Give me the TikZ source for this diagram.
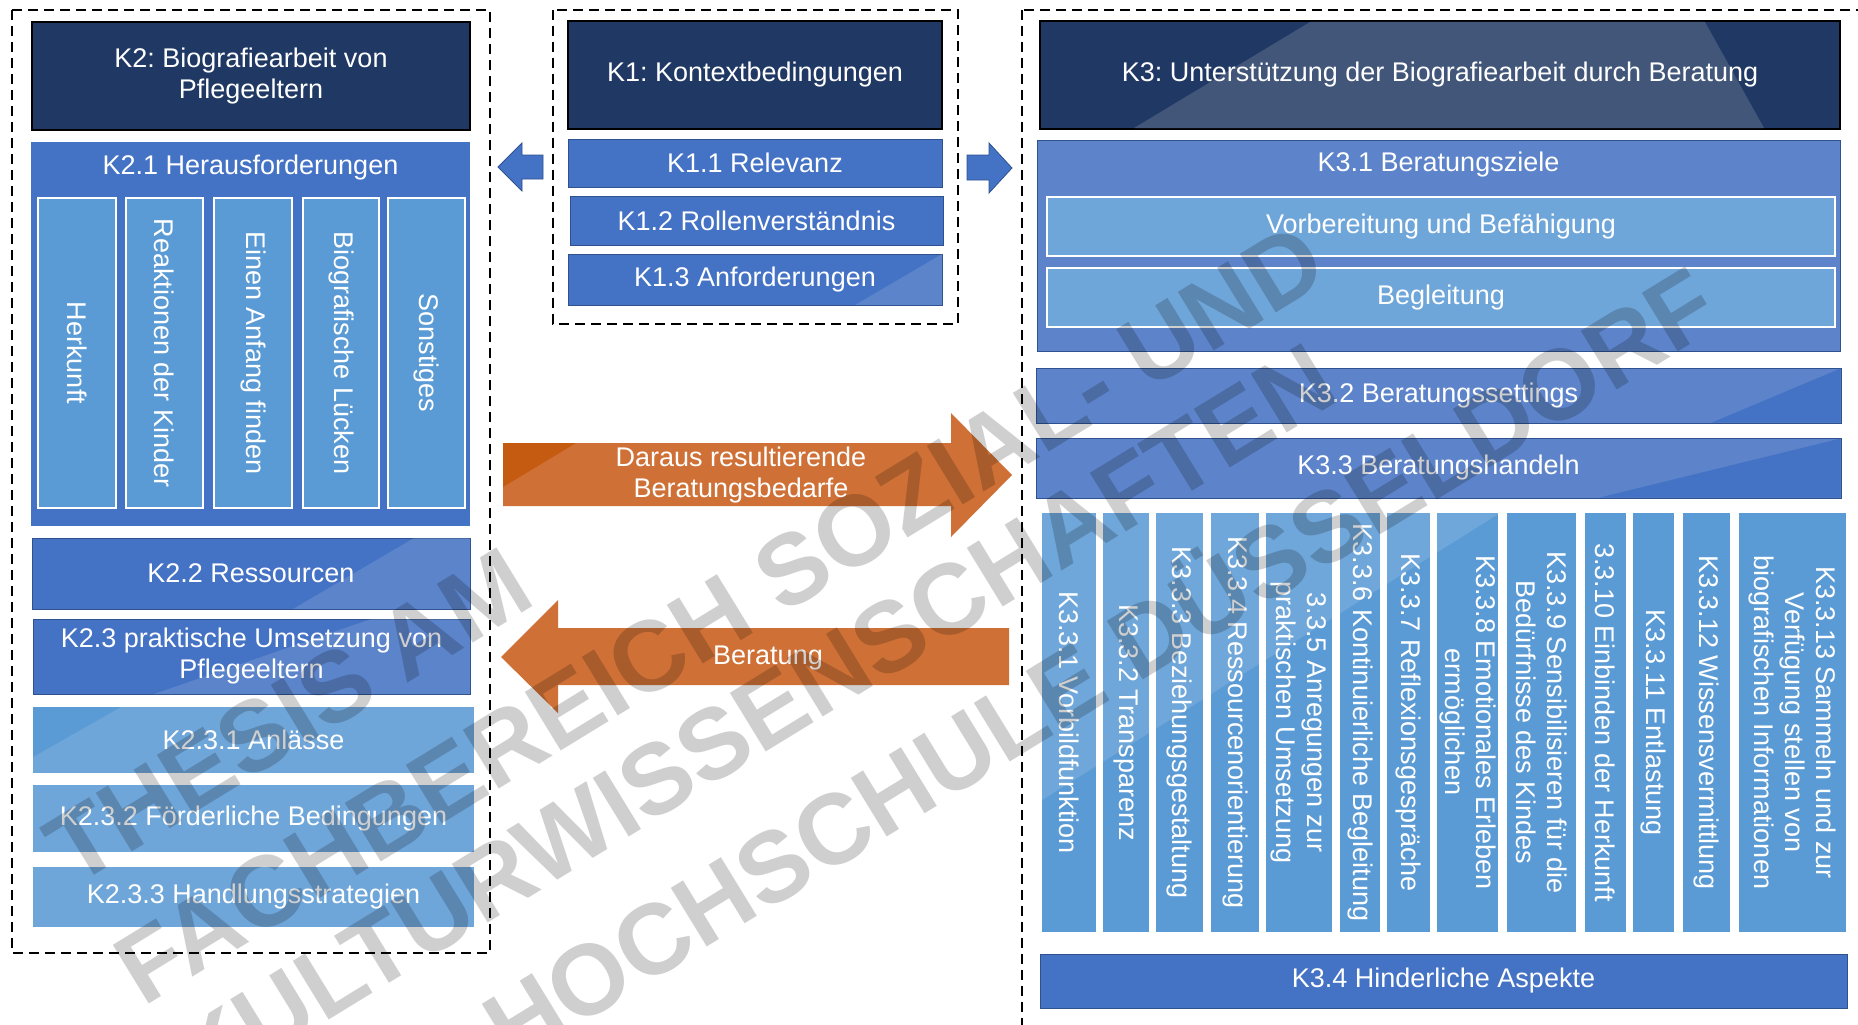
\documentclass[tikz,border=0pt]{standalone}
\usepackage{fontspec}
\setmainfont{Liberation Sans}
\usepackage{tikz}
\definecolor{navy}{HTML}{203864}
\definecolor{navylight}{HTML}{42567A}
\definecolor{accblue}{HTML}{4472C4}
\definecolor{softblue}{HTML}{5D84CA}
\definecolor{midblue}{HTML}{5B9BD5}
\definecolor{lightblue}{HTML}{6FA6DA}
\definecolor{edgeblue}{HTML}{2F528F}
\definecolor{orangearrow}{HTML}{CF7136}
\definecolor{orangedark}{HTML}{C55A11}
\frenchspacing

\begin{document}
\begin{tikzpicture}[x=1pt,y=-1pt,
  every node/.style={text=white,font=\fontsize{27}{31}\selectfont,align=center,inner sep=0pt},
  head/.style={fill=navy,draw=black,line width=1.5pt},
  bar/.style={fill=accblue,draw=edgeblue,line width=1pt},
  soft/.style={fill=softblue,draw=edgeblue,line width=0.6pt},
  sub/.style={fill=midblue,draw=white,line width=2.5pt,rotate=-90,minimum width=310pt},
  goal/.style={fill=lightblue,draw=white,line width=2.5pt},
  pale/.style={fill=lightblue},
  col/.style={fill=midblue,rotate=-90,minimum width=419pt},
  frame/.style={dash pattern=on 10pt off 6pt,line width=2.5pt},
  gloss/.style={fill=white,opacity=0.13},
  wmark/.style={text=black,opacity=0.19,font=\fontsize{100}{108}\selectfont\bfseries,rotate=31.5,anchor=west}]
\useasboundingbox (0,0) rectangle (1858,1025);
\fill[white] (0,0) rectangle (1858,1025);
\clip (0,0) rectangle (1858,1025);

% K2
\draw[frame] (12,10) rectangle (490,953);
\node[head,minimum width=438pt,minimum height=108pt] (k2) at (251,76) {K2: Biografiearbeit von\\Pflegeeltern};
\node[fill=accblue,minimum width=439pt,minimum height=384pt] (k21) at (250.5,334) {};
\node (k21t) at (250.5,168) {K2.1 Herausforderungen};
\node[sub,minimum height=78pt] (k21a) at (77,353) {Herkunft};
\node[sub,minimum height=77pt] (k21b) at (164.5,353) {Reaktionen der Kinder};
\node[sub,minimum height=78pt] (k21c) at (253,353) {Einen Anfang finden};
\node[sub,minimum height=76pt] (k21d) at (341,353) {Biografische Lücken};
\node[sub,minimum height=77pt] (k21e) at (426.5,353) {Sonstiges};
\node[bar,minimum width=438pt,minimum height=71pt] (k22) at (251,573.5) {K2.2 Ressourcen};
\node[bar,minimum width=437pt,minimum height=75pt] (k23) at (251.5,656.5) {K2.3 praktische Umsetzung von\\Pflegeeltern};
\fill[gloss] (414,538)--(470,538)--(470,609)--(293,609)--cycle;
\fill[gloss] (371,619)--(470,619)--(470,694)--(154,694)--cycle;
\node[pale,minimum width=441pt,minimum height=66pt] (k231) at (253.5,740) {K2.3.1 Anlässe};
\fill[midblue] (33,707)--(121,707)--(33,757)--cycle;
\node[pale,minimum width=441pt,minimum height=67pt] (k232) at (253.5,818.5) {K2.3.2 Förderliche Bedingungen};
\node[pale,minimum width=441pt,minimum height=60pt] (k233) at (253.5,897) {K2.3.3 Handlungsstrategien};

% K1
\draw[frame] (553,10) rectangle (958,324);
\node[head,minimum width=374pt,minimum height=108pt] (k1) at (755,75) {K1: Kontextbedingungen};
\node[bar,minimum width=374pt,minimum height=48pt] (k11) at (755,163) {K1.1 Relevanz};
\node[bar,minimum width=373pt,minimum height=49pt] (k12) at (756.5,220.5) {K1.2 Rollenverständnis};
\node[bar,minimum width=374pt,minimum height=51pt] (k13) at (755,279.5) {K1.3 Anforderungen};
\fill[gloss] (942,254)--(942,305)--(855,305)--cycle;
\draw[fill=accblue,draw=edgeblue,line width=0.8pt] (543,155)--(522,155)--(522,143)--(498,167)--(522,191)--(522,179)--(543,179)--cycle;
\draw[fill=accblue,draw=edgeblue,line width=0.8pt] (967,155)--(989,155)--(989,143)--(1012,168)--(989,193)--(989,180)--(967,180)--cycle;

% Pfeile
\fill[orangearrow] (503,443)--(951,443)--(951,413)--(1012,475)--(951,537)--(951,506)--(503,506)--cycle;
\fill[orangedark] (503,443)--(576,443)--(503,487)--cycle;
\node (bedarf) at (741,475) {Daraus resultierende\\Beratungsbedarfe};
\fill[orangearrow] (1009,628)--(558,628)--(558,600)--(501,657)--(558,713)--(558,685)--(1009,685)--cycle;
\node (beratung) at (768,658) {Beratung};

% K3
\draw[frame] (1022,10) rectangle (1890,1060);
\node[head,minimum width=800pt,minimum height=108pt] (k3) at (1440,75) {};
\fill[navylight] (1310,22)--(1705,22)--(1764,128)--(1134,128)--cycle;
\node (k3t) at (1440,75) {K3: Unterstützung der Biografiearbeit durch Beratung};
\node[soft,minimum width=803pt,minimum height=211pt] (k31) at (1438.5,245.5) {};
\node (k31t) at (1438.5,165) {K3.1 Beratungsziele};
\node[goal,minimum width=788pt,minimum height=59pt] (k31a) at (1441,226.5) {Vorbereitung und Befähigung};
\node[goal,minimum width=788pt,minimum height=59pt] (k31b) at (1441,297.5) {Begleitung};
\node[soft,minimum width=805pt,minimum height=55pt] (k32) at (1438.5,395.5) {K3.2 Beratungssettings};
\fill[accblue] (1840.5,368.5)--(1840.5,422.5)--(1712,422.5)--cycle;
\node[soft,minimum width=805pt,minimum height=60pt] (k33) at (1438.5,468) {K3.3 Beratungshandeln};
\fill[accblue] (1840.5,438.5)--(1840.5,497.5)--(1600,497.5)--cycle;
\node[col,minimum height=54pt] (k331) at (1069,722.5) {K3.3.1 Vorbildfunktion};
\node[col,minimum height=46pt] (k332) at (1126,722.5) {K3.3.2 Transparenz};
\node[col,minimum height=47pt] (k333) at (1179.5,722.5) {K3.3.3 Beziehungsgestaltung};
\node[col,minimum height=48pt] (k334) at (1235,722.5) {K3.3.4 Ressourcenorientierung};
\node[col,minimum height=66pt] (k335) at (1299,722.5) {3.3.5 Anregungen zur\\praktischen Umsetzung};
\node[col,minimum height=40pt] (k336) at (1360,722.5) {K3.3.6 Kontinuierliche Begleitung};
\node[col,minimum height=43pt] (k337) at (1408.5,722.5) {K3.3.7 Reflexionsgespräche};
\node[col,minimum height=61pt] (k338) at (1467.5,722.5) {K3.3.8 Emotionales Erleben\\ermöglichen};
\node[col,minimum height=69pt] (k339) at (1541.5,722.5) {K3.3.9 Sensibilisieren für die\\Bedürfnisse des Kindes};
\node[col,minimum height=41pt] (k3310) at (1605.5,722.5) {3.3.10 Einbinden der Herkunft};
\node[col,minimum height=41pt] (k3311) at (1653.5,722.5) {K3.3.11 Entlastung};
\node[col,minimum height=47pt] (k3312) at (1706.5,722.5) {K3.3.12 Wissensvermittlung};
\node[col,minimum height=107pt] (k3313) at (1792.5,722.5) {K3.3.13 Sammeln und zur\\Verfügung stellen von\\biografischen Informationen};
\fill[gloss] (1042,513)--(1500,513)--(1042,800)--cycle;
\node[bar,minimum width=807pt,minimum height=54pt] (k34) at (1443.5,981) {K3.4 Hinderliche Aspekte};

%\node at (929,512) {};
\node[wmark] (wm1) at (56,858) {THESIS AM};
\node[wmark] (wm2) at (125,978) {FACHBEREICH SOZIAL- UND};
\node[wmark] (wm3) at (182,1070) {KULTURWISSENSCHAFTEN};
\node[wmark] (wm4) at (490,1031) {HOCHSCHULE DÜSSELDORF};
\end{tikzpicture}
\end{document}
